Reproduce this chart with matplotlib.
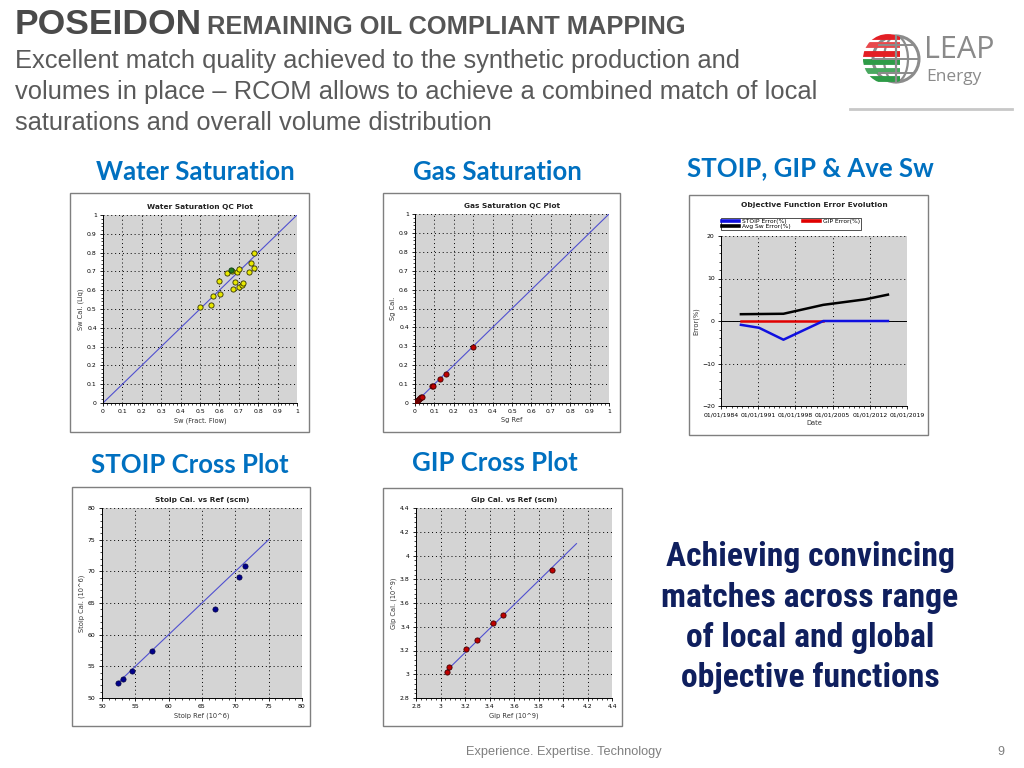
import matplotlib
matplotlib.use("Agg")
import matplotlib.pyplot as plt
import matplotlib.patches as patches
from matplotlib.ticker import MultipleLocator, AutoMinorLocator
import datetime as dt
import matplotlib.dates as mdates

# water saturation QC
sw_ref = [0.50, 0.555, 0.565, 0.60, 0.605, 0.64, 0.665, 0.67, 0.68, 0.69, 0.70, 0.70, 0.715, 0.72, 0.75, 0.765, 0.78, 0.78]
sw_cal = [0.51, 0.52, 0.57, 0.65, 0.58, 0.69, 0.70, 0.605, 0.645, 0.695, 0.715, 0.615, 0.63, 0.64, 0.695, 0.745, 0.72, 0.80]
sw_hi_ref = [0.66]
sw_hi_cal = [0.71]

# gas saturation QC
sg_ref = [0.005, 0.01, 0.015, 0.02, 0.025, 0.03, 0.035, 0.09, 0.095, 0.13, 0.16, 0.30]
sg_cal = [0.0, 0.008, 0.015, 0.02, 0.025, 0.03, 0.033, 0.088, 0.09, 0.125, 0.155, 0.295]

# objective function error evolution
stoip_dates = ["1987-10-01", "1991-03-01", "1995-10-01", "2003-04-01", "2015-06-01"]
stoip_err = [-0.9, -1.6, -4.4, 0.0, 0.0]
gip_dates = ["1987-10-01", "2003-04-01"]
gip_err = [0.0, 0.0]
sw_dates = ["1987-10-01", "1995-10-01", "2003-04-01", "2011-03-01", "2015-06-01"]
sw_err = [1.6, 1.7, 3.8, 5.1, 6.2]
date_ticks = ["1984-01-01", "1991-01-01", "1998-01-01", "2005-01-01", "2012-01-01", "2019-01-01"]

# stoip cross plot
stoip_ref = [52.4, 53.2, 54.5, 57.5, 67.0, 70.5, 71.5]
stoip_cal = [52.3, 53.0, 54.3, 57.4, 64.1, 69.1, 70.9]
stoip_line = [52.5, 75.0]

# gip cross plot
gip_ref = [3.05, 3.07, 3.21, 3.30, 3.43, 3.51, 3.91]
gip_cal = [3.02, 3.06, 3.215, 3.29, 3.43, 3.50, 3.88]
gip_line_x = [3.04, 4.11]
gip_line_y = [3.02, 4.10]

statement = ["Achieving convincing", "matches across range", "of local and global", "objective functions"]

W, H = 1024, 768
fig = plt.figure(figsize=(W / 100, H / 100), dpi=100)
fig.patch.set_facecolor("white")


def rect(x0, y0, x1, y1):
    return [x0 / W, 1 - y1 / H, (x1 - x0) / W, (y1 - y0) / H]


def frame(x0, y0, x1, y1):
    fig.patches.append(patches.Rectangle((x0 / W, 1 - y1 / H), (x1 - x0) / W, (y1 - y0) / H,
                                         transform=fig.transFigure, facecolor="white",
                                         edgecolor="#7f7f7f", lw=1.0, zorder=-5))


def style(ax, title, xlabel, ylabel):
    ax.set_facecolor("#d4d4d4")
    ax.grid(True, color="black", linestyle=(0, (1, 3)), lw=0.7)
    ax.set_axisbelow(True)
    ax.tick_params(labelsize=4.4, length=2.5, width=0.6, pad=2, direction="out")
    ax.tick_params(which="minor", length=1.5, width=0.5)
    ax.xaxis.set_minor_locator(AutoMinorLocator(5))
    ax.yaxis.set_minor_locator(AutoMinorLocator(5))
    for k in ["left", "bottom"]:
        ax.spines[k].set_linewidth(0.7)
    for k in ["top", "right"]:
        ax.spines[k].set_visible(False)
    ax.set_title(title, fontsize=5.3, fontweight="bold", pad=4, color="#222222")
    ax.set_xlabel(xlabel, fontsize=4.8, labelpad=2, color="#333333")
    ax.set_ylabel(ylabel, fontsize=4.8, labelpad=2, color="#333333")


# ---- header text ----
fig.text(15 / W, 1 - 24 / H, "POSEIDON", fontsize=25.5, fontweight="bold", color="#4a4a4a",
         va="center", family="Liberation Sans")
fig.text(207 / W, 1 - 27 / H, "REMAINING OIL COMPLIANT MAPPING", fontsize=18.3, fontweight="bold",
         color="#555555", va="center", family="Liberation Sans")
sub = ["Excellent match quality achieved to the synthetic production and",
       "volumes in place \u2013 RCOM allows to achieve a combined match of local",
       "saturations and overall volume distribution"]
for i, line in enumerate(sub):
    fig.text(15 / W, 1 - (61 + 31 * i) / H, line, fontsize=18.4, color="#5a5a5a", va="center",
             family="Liberation Sans")

# logo
lax = fig.add_axes(rect(860, 28, 1000, 90))
lax.set_xlim(0, 140)
lax.set_ylim(62, 0)
lax.axis("off")
clip = patches.Circle((28, 31), 25, transform=lax.transData)
for k, c in enumerate(["#e31e24", "#e8494c", "#e31e24", "#2e9b47", "#4aa860", "#2e9b47"]):
    band, = lax.plot([0, 40], [9 + k * 8.4, 9 + k * 8.4], color=c, lw=4.2, solid_capstyle="butt")
    band.set_clip_path(clip)
lax.add_patch(patches.Circle((36, 31), 23, facecolor="white", edgecolor="#8c8c8c", lw=2.2))
lax.add_patch(patches.Ellipse((36, 31), 24, 46, facecolor="none", edgecolor="#8c8c8c", lw=1.6))
lax.plot([36, 36], [8, 54], color="#8c8c8c", lw=1.6)
for yy, hw in [(17, 17.5), (31, 23), (45, 17.5)]:
    lax.plot([36 - hw, 36 + hw], [yy, yy], color="#8c8c8c", lw=1.4)
lax.text(64, 22, "LEAP", fontsize=22, color="#8a8a8a", va="center", family="Open Sans")
lax.text(66, 49, "Energy", fontsize=12.5, color="#8a8a8a", va="center", family="Open Sans")
fig.lines.append(plt.Line2D([850 / W, 1012 / W], [1 - 109 / H, 1 - 109 / H], transform=fig.transFigure,
                            color="#c8c8c8", lw=2))

# panel headers
hdr = dict(fontsize=18.5, fontweight="bold", color="#0070c0", family="Lato", ha="center", va="center")
fig.text(195 / W, 1 - 172 / H, "Water Saturation", **hdr)
fig.text(497 / W, 1 - 172 / H, "Gas Saturation", **hdr)
fig.text(810 / W, 1 - 168 / H, "STOIP, GIP & Ave Sw", **hdr)
fig.text(190 / W, 1 - 465 / H, "STOIP Cross Plot", **hdr)
fig.text(495 / W, 1 - 463 / H, "GIP Cross Plot", **hdr)

# right statement, sized so the widest line spans about 296 px
texts = []
for i, line in enumerate(statement):
    texts.append(fig.text(810 / W, 1 - (557 + 40.5 * i) / H, line, fontsize=21, fontweight="bold",
                          color="#0f1f5e", ha="center", va="center", fontstretch="condensed",
                          family=["Liberation Sans Narrow", "Roboto Condensed", "Noto Sans", "Liberation Sans"]))
r = fig.canvas.get_renderer()
wmax = max(t.get_window_extent(r).width for t in texts)
for t in texts:
    t.set_fontsize(21 * 296 / wmax)

# footer
fig.text(564 / W, 1 - 752 / H, "Experience. Expertise. Technology", fontsize=9.2, color="#7f7f7f",
         ha="center", va="center", family="Liberation Sans")
fig.text(1001 / W, 1 - 752 / H, "9", fontsize=9, color="#7f7f7f", ha="center", va="center",
         family="Liberation Sans")

# ---- water saturation ----
frame(70, 193, 309, 432)
ax = fig.add_axes(rect(103, 215, 297, 403))
style(ax, "Water Saturation QC Plot", "Sw (Fract. Flow)", "Sw Cal. (Liq)")
ax.plot([0, 1], [0, 1], color="#5050d0", lw=0.8)
ax.scatter(sw_ref, sw_cal, s=14, facecolor="#e8e800", edgecolor="#333300", lw=0.6, zorder=3)
ax.scatter(sw_hi_ref, sw_hi_cal, s=14, facecolor="#1f7a1f", edgecolor="#0f3a0f", lw=0.6, zorder=4)
ax.set_xlim(0, 1)
ax.set_ylim(0, 1)
ax.xaxis.set_major_locator(MultipleLocator(0.1))
ax.yaxis.set_major_locator(MultipleLocator(0.1))
ax.xaxis.set_major_formatter(lambda v, p: f"{v:g}")
ax.yaxis.set_major_formatter(lambda v, p: f"{v:g}")

# ---- gas saturation ----
frame(383, 193, 620, 432)
ax = fig.add_axes(rect(415, 214, 609, 403))
style(ax, "Gas Saturation QC Plot", "Sg Ref", "Sg Cal.")
ax.plot([0, 1], [0, 1], color="#5050d0", lw=0.8)
ax.scatter(sg_ref, sg_cal, s=14, facecolor="#c00000", edgecolor="#400000", lw=0.6, zorder=3)
ax.set_xlim(0, 1)
ax.set_ylim(0, 1)
ax.xaxis.set_major_locator(MultipleLocator(0.1))
ax.yaxis.set_major_locator(MultipleLocator(0.1))
ax.xaxis.set_major_formatter(lambda v, p: f"{v:g}")
ax.yaxis.set_major_formatter(lambda v, p: f"{v:g}")

# ---- objective function ----
frame(689, 195, 928, 435)
ax = fig.add_axes(rect(721, 236, 907, 406))
style(ax, "", "Date", "Error(%)")
ax.set_title("Objective Function Error Evolution", fontsize=5.4, fontweight="bold", pad=21, color="#222222")
to_d = lambda lst: [dt.datetime.strptime(s, "%Y-%m-%d") for s in lst]
ax.axhline(0, color="black", lw=0.7)
l1, = ax.plot(to_d(stoip_dates), stoip_err, color="#1010e0", lw=1.8, zorder=4)
l2, = ax.plot(to_d(gip_dates), gip_err, color="#e00000", lw=1.8, zorder=3)
l3, = ax.plot(to_d(sw_dates), sw_err, color="black", lw=1.8, zorder=3)
ax.set_xlim(dt.datetime(1984, 1, 1), dt.datetime(2019, 1, 1))
ax.set_ylim(-20, 20)
ax.set_xticks(to_d(date_ticks))
ax.xaxis.set_major_formatter(mdates.DateFormatter("%d/%m/%Y"))
ax.xaxis.set_minor_locator(mdates.YearLocator(1))
ax.yaxis.set_major_locator(MultipleLocator(10))
ax.yaxis.set_minor_locator(MultipleLocator(2))
leg = ax.legend([l1, l3, l2], ["STOIP Error(%)", "Avg Sw Error(%)", "GIP Error(%)"], ncol=2,
                fontsize=4.3, loc="lower left", bbox_to_anchor=(0.0, 1.035), frameon=True,
                fancybox=False, edgecolor="black", borderpad=0.15, labelspacing=0.0,
                handlelength=2.8, columnspacing=2.0, handletextpad=0.6, borderaxespad=0)
leg.get_frame().set_linewidth(0.6)
for h in leg.legend_handles:
    h.set_linewidth(2.6)

# ---- stoip cross plot ----
frame(72, 487, 310, 726)
ax = fig.add_axes(rect(102, 508, 302, 698))
style(ax, "Stoip Cal. vs Ref (scm)", "Stoip Ref (10^6)", "Stoip Cal. (10^6)")
ax.plot(stoip_line, stoip_line, color="#5050d0", lw=0.8)
ax.scatter(stoip_ref, stoip_cal, s=14, facecolor="#00008b", edgecolor="#000040", lw=0.5, zorder=3)
ax.set_xlim(50, 80)
ax.set_ylim(50, 80)
ax.xaxis.set_major_locator(MultipleLocator(5))
ax.yaxis.set_major_locator(MultipleLocator(5))

# ---- gip cross plot ----
frame(383, 488, 622, 726)
ax = fig.add_axes(rect(416, 508, 612, 698))
style(ax, "Gip Cal. vs Ref (scm)", "Gip Ref (10^9)", "Gip Cal. (10^9)")
ax.plot(gip_line_x, gip_line_y, color="#5050d0", lw=0.8)
ax.scatter(gip_ref, gip_cal, s=14, facecolor="#c00000", edgecolor="#400000", lw=0.6, zorder=3)
ax.set_xlim(2.8, 4.4)
ax.set_ylim(2.8, 4.4)
ax.xaxis.set_major_locator(MultipleLocator(0.2))
ax.yaxis.set_major_locator(MultipleLocator(0.2))
ax.xaxis.set_major_formatter(lambda v, p: f"{v:g}")
ax.yaxis.set_major_formatter(lambda v, p: f"{v:g}")

fig.savefig("out.png", dpi=100)
